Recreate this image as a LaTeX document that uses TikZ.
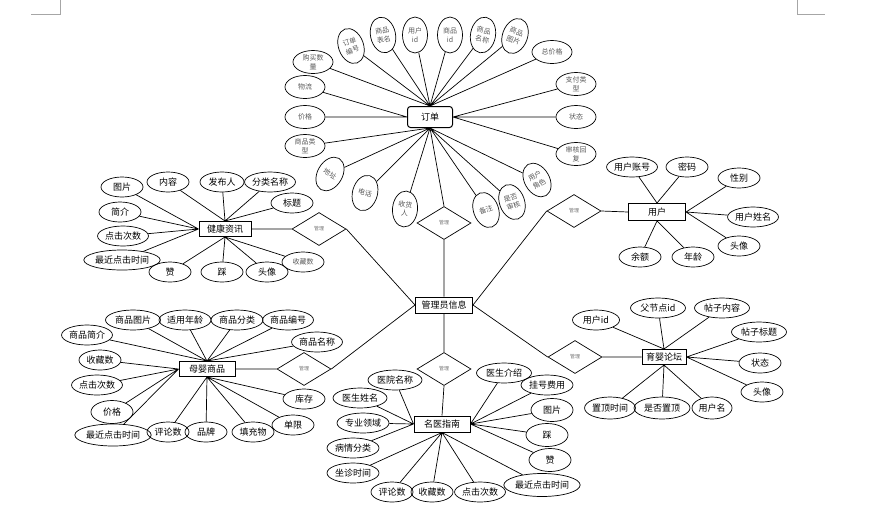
\documentclass[tikz,border=0pt]{standalone}
\usepackage{fontspec}
\setmainfont{Noto Sans CJK SC}
\usetikzlibrary{shapes.geometric}
\tikzset{
  ent/.style={draw, line width=1pt, minimum width=#1, minimum height=16pt, inner sep=0pt, font=\fontsize{9}{10}\selectfont},
  attr/.style={ellipse, draw, line width=0.7pt, minimum width=#1, minimum height=20pt, inner sep=0pt, font=\fontsize{9}{10}\selectfont},
  attr/.default=42pt,
  oattr/.style={ellipse, draw, line width=0.7pt, minimum width=40pt, minimum height=23pt, inner sep=0pt, align=center, text=black!65, font=\fontsize{7}{9}\selectfont},
  vattr/.style={ellipse, draw, line width=0.7pt, minimum width=25pt, minimum height=36pt, inner sep=0pt, align=center, text=black!65, font=\fontsize{7}{9}\selectfont},
  rel/.style={diamond, draw, line width=0.7pt, minimum width=54pt, minimum height=33pt, inner sep=0pt, text=black!55, font=\fontsize{5}{6}\selectfont},
  link/.style={line width=0.7pt}
}
\begin{document}
\begin{tikzpicture}[x=1pt, y=-1pt]
\useasboundingbox (0,0) rectangle (890,517);
% page corner marks
\draw[black!35, line width=0.6pt] (60,0) -- (60,14) -- (31,14);
\draw[black!35, line width=0.6pt] (797,0) -- (797,14) -- (825,14);

% order
\node[ent=45pt, minimum height=21pt, rounded corners=3pt] (ord) at (430,117) {订单};
\node[oattr] (oBuy) at (313,62) {购买数\\量};
\node[vattr, rotate=20] (oNo) at (351,46) {订单\\编号};
\node[vattr, rotate=12] (oTab) at (383,35) {商品\\表名};
\node[vattr] (oUid) at (415,35) {用户\\id};
\node[vattr] (oGid) at (450,35) {商品\\id};
\node[vattr, rotate=-10] (oGname) at (483,35) {商品\\名称};
\node[vattr, rotate=-20] (oGpic) at (515,36) {商品\\图片};
\node[oattr] (oTotal) at (552,52) {总价格};
\node[oattr] (oPay) at (576,84) {支付类\\型};
\node[oattr] (oState) at (576,117) {状态};
\node[oattr] (oReply) at (576,154) {审核回\\复};
\node[vattr, rotate=30] (oRole) at (537,180) {用户\\角色};
\node[vattr, rotate=20] (oAudit) at (512,202) {是否\\审核};
\node[vattr, rotate=20] (oNote) at (486,210) {备注};
\node[vattr, rotate=-5] (oRecv) at (405,209) {收货\\人};
\node[vattr, rotate=-15] (oTel) at (365,193) {电话};
\node[vattr, rotate=-30] (oAddr) at (330,174) {地址};
\node[oattr] (oGtype) at (305,146) {商品类\\型};
\node[oattr] (oPrice) at (305,117) {价格};
\node[oattr] (oLog) at (305,87) {物流};
\draw[link] (oBuy) -- (ord.north) (oNo) -- (ord.north) (oTab) -- (ord.north)
  (oUid) -- (ord.north) (oGid) -- (ord.north) (oGname) -- (ord.north)
  (oGpic) -- (ord.north) (oTotal) -- (ord.north)
  (oPay) -- (ord.east) (oState) -- (ord.east) (oReply) -- (ord.east)
  (oRole) -- (ord.south) (oAudit) -- (ord.south) (oNote) -- (ord.south)
  (oRecv) -- (ord.south) (oTel) -- (ord.south) (oAddr) -- (ord.south)
  (oGtype) -- (ord.south) (oPrice) -- (ord.west) (oLog) -- (ord.west);

% admin and relations
\node[ent=57pt] (admin) at (444,305) {管理员信息};
\node[rel] (rOrd) at (444,223) {管理};
\node[rel] (rNews) at (319,229) {管理};
\node[rel] (rUser) at (574,211) {管理};
\node[rel] (rGoods) at (304,369) {管理};
\node[rel] (rDoc) at (444,369) {管理};
\node[rel] (rForum) at (575,357) {管理};
\draw[link] (ord.south) -- (rOrd.north) (rOrd.south) -- (admin.north)
  (rNews.east) -- (admin.west) (rGoods.east) -- (admin.west)
  (rUser.west) -- (admin.east) (rForum.west) -- (admin.east)
  (admin.south) -- (rDoc.north);

% health news
\node[ent=52pt, minimum height=15pt] (news) at (225,229) {健康资讯};
\node[attr] (nPic) at (122,187) {图片};
\node[attr] (nCont) at (168,182) {内容};
\node[attr=44pt] (nPub) at (222,182) {发布人};
\node[attr=50pt] (nCat) at (270,182) {分类名称};
\node[attr] (nTitle) at (292,203) {标题};
\node[attr] (nIntro) at (120,212) {简介};
\node[attr=50pt] (nClick) at (123,236) {点击次数};
\node[attr=66pt] (nLast) at (122,260) {最近点击时间};
\node[attr] (nLike) at (170,272) {赞};
\node[attr] (nDis) at (222,272) {踩};
\node[attr] (nHead) at (267,272) {头像};
\node[attr, text=black!65, font=\fontsize{7}{8}\selectfont] (nFav) at (303,262) {收藏数};
\draw[link] (nPic) -- (news.west) (nIntro) -- (news.west) (nClick) -- (news.west)
  (nLast) -- (news.west) (nCont) -- (news.north) (nPub) -- (news.north)
  (nCat) -- (news.north) (nTitle) -- (news.north)
  (nLike) -- (news.south) (nDis) -- (news.south) (nHead) -- (news.south)
  (nFav) -- (news.south) (news.east) -- (rNews.west);

% user
\node[ent=57pt, minimum height=17pt] (user) at (657,212) {用户};
\node[attr=50pt] (uAcc) at (632,167) {用户账号};
\node[attr] (uPwd) at (687,167) {密码};
\node[attr] (uSex) at (739,178) {性别};
\node[attr=50pt] (uName) at (753,217) {用户姓名};
\node[attr] (uHead) at (739,246) {头像};
\node[attr] (uAge) at (693,257) {年龄};
\node[attr] (uBal) at (640,257) {余额};
\draw[link] (uAcc) -- (user.north) (uPwd) -- (user.north)
  (uSex) -- (user.east) (uName) -- (user.east) (uHead) -- (user.east)
  (uAge) -- (user.south) (uBal) -- (user.south) (rUser.east) -- (user.west);

% mother and baby goods
\node[ent=56pt, minimum height=15pt] (goods) at (207,369) {母婴商品};
\node[attr=55pt] (gPic) at (133,320) {商品图片};
\node[attr=52pt] (gAge) at (185,320) {适用年龄};
\node[attr=52pt] (gCat) at (237,320) {商品分类};
\node[attr=50pt] (gNo) at (288,320) {商品编号};
\node[attr=50pt] (gName) at (317,342) {商品名称};
\node[attr=50pt] (gIntro) at (87,335) {商品简介};
\node[attr] (gFav) at (100,360) {收藏数};
\node[attr=50pt] (gClick) at (97,385) {点击次数};
\node[attr, minimum height=23pt] (gPrice) at (112,412) {价格};
\node[attr=72pt, minimum height=22pt] (gLast) at (113,435) {最近点击时间};
\node[attr] (gCom) at (168,432) {评论数};
\node[attr] (gBrand) at (206,432) {品牌};
\node[attr] (gFill) at (253,432) {填充物};
\node[attr] (gLim) at (293,425) {单限};
\node[attr] (gStock) at (304,399) {库存};
\draw[link] (gPic) -- (goods.north) (gAge) -- (goods.north) (gCat) -- (goods.north)
  (gNo) -- (goods.north) (gName) -- (goods.north) (gIntro) -- (goods.north)
  (gFav) -- (goods.west) (gClick) -- (goods.west) (gPrice) -- (goods.west)
  (gLast) -- (goods.west) (gCom) -- (goods.south) (gBrand) -- (goods.south)
  (gFill) -- (goods.south) (gLim) -- (goods.south) (gStock) -- (goods.south)
  (goods.east) -- (rGoods.west);

% famous doctors
\node[ent=56pt] (doc) at (442,424) {名医指南};
\node[attr=54pt] (dHosp) at (395,380) {医院名称};
\node[attr=54pt] (dName) at (360,398) {医生姓名};
\node[attr=52pt] (dField) at (363,423) {专业领域};
\node[attr=52pt] (dCls) at (353,448) {病情分类};
\node[attr=52pt] (dTime) at (353,473) {坐诊时间};
\node[attr] (dCom) at (392,492) {评论数};
\node[attr] (dFav) at (432,492) {收藏数};
\node[attr=50pt] (dClick) at (480,492) {点击次数};
\node[attr=72pt, minimum height=23pt] (dLast) at (542,485) {最近点击时间};
\node[attr, minimum height=23pt] (dLike) at (550,460) {赞};
\node[attr, minimum height=23pt] (dDis) at (547,435) {踩};
\node[attr, minimum height=23pt] (dPic) at (552,410) {图片};
\node[attr=52pt] (dFee) at (547,385) {挂号费用};
\node[attr=55pt] (dIntro) at (504,373) {医生介绍};
\draw[link] (dHosp) -- (doc.west) (dName) -- (doc.west) (dField) -- (doc.west)
  (dCls) -- (doc.west) (dTime) -- (doc.south) (dCom) -- (doc.south)
  (dFav) -- (doc.south) (dClick) -- (doc.south) (dLast) -- (doc.south)
  (dLike) -- (doc.east) (dDis) -- (doc.east) (dPic) -- (doc.east)
  (dFee) -- (doc.east) (dIntro) -- (doc.east) (rDoc.south) -- (doc.north);

% parenting forum
\node[ent=44pt, minimum height=15pt] (forum) at (664,357) {育婴论坛};
\node[attr=47pt] (fUid) at (596,320) {用户id};
\node[attr=55pt] (fPid) at (658,308) {父节点id};
\node[attr=55pt] (fCont) at (722,308) {帖子内容};
\node[attr=55pt] (fTitle) at (759,332) {帖子标题};
\node[attr] (fState) at (760,363) {状态};
\node[attr] (fHead) at (762,392) {头像};
\node[attr=40pt, minimum height=22pt] (fUname) at (712,408) {用户名};
\node[attr=56pt, minimum height=22pt] (fTop) at (662,408) {是否置顶};
\node[attr=50pt, minimum height=22pt] (fTtime) at (610,408) {置顶时间};
\draw[link] (fUid) -- (forum.north) (fPid) -- (forum.north) (fCont) -- (forum.north)
  (fTitle) -- (forum.east) (fState) -- (forum.east) (fHead) -- (forum.east)
  (fUname) -- (forum.south) (fTop) -- (forum.south) (fTtime) -- (forum.south)
  (rForum.east) -- (forum.west);
\end{tikzpicture}
\end{document}
